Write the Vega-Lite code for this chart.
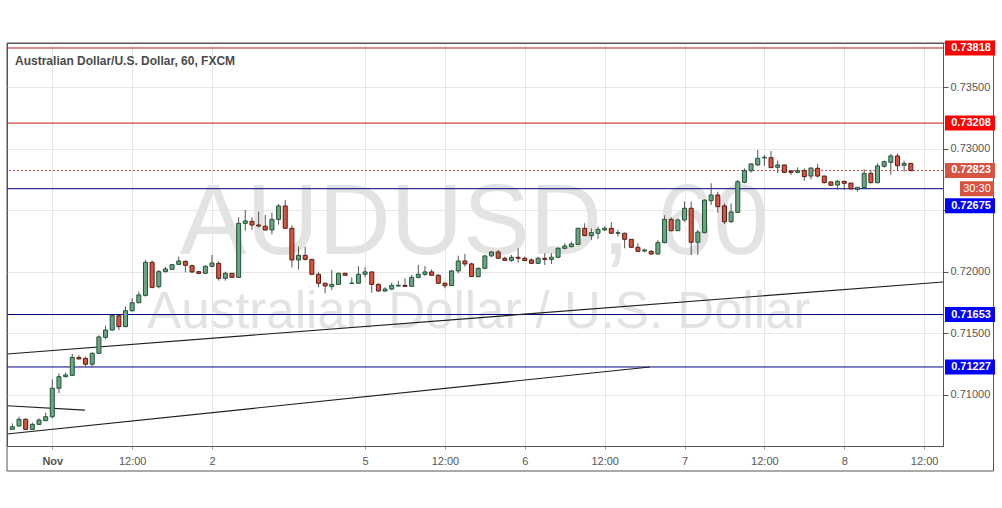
{
  "$schema": "https://vega.github.io/schema/vega-lite/v6.json",
  "width": 936,
  "height": 403,
  "autosize": {"type": "none"},
  "padding": {"left": 7, "top": 43, "right": 59, "bottom": 62},
  "background": "#ffffff",
  "config": {"view": {"stroke": "#555555", "strokeWidth": 1}, "font": "Liberation Sans"},
  "datasets": {
    "one": [{"n": 1}],
    "candles": [
      {"i":-6,"o":0.70720,"h":0.70769,"l":0.70715,"c":0.70742},
      {"i":-5,"o":0.70748,"h":0.70823,"l":0.70742,"c":0.70802},
      {"i":-4,"o":0.70802,"h":0.70810,"l":0.70715,"c":0.70720},
      {"i":-3,"o":0.70720,"h":0.70775,"l":0.70715,"c":0.70761},
      {"i":-2,"o":0.70761,"h":0.70810,"l":0.70756,"c":0.70796},
      {"i":-1,"o":0.70791,"h":0.70856,"l":0.70788,"c":0.70823},
      {"i":0,"o":0.70823,"h":0.71127,"l":0.70810,"c":0.71054},
      {"i":1,"o":0.71054,"h":0.71175,"l":0.71013,"c":0.71148},
      {"i":2,"o":0.71148,"h":0.71181,"l":0.71143,"c":0.71162},
      {"i":3,"o":0.71159,"h":0.71333,"l":0.71154,"c":0.71305},
      {"i":4,"o":0.71303,"h":0.71324,"l":0.71289,"c":0.71292},
      {"i":5,"o":0.71297,"h":0.71311,"l":0.71230,"c":0.71249},
      {"i":6,"o":0.71249,"h":0.71346,"l":0.71224,"c":0.71338},
      {"i":7,"o":0.71338,"h":0.71484,"l":0.71333,"c":0.71471},
      {"i":8,"o":0.71468,"h":0.71563,"l":0.71452,"c":0.71527},
      {"i":9,"o":0.71527,"h":0.71645,"l":0.71522,"c":0.71644},
      {"i":10,"o":0.71644,"h":0.71649,"l":0.71527,"c":0.71555},
      {"i":11,"o":0.71555,"h":0.71717,"l":0.71549,"c":0.71684},
      {"i":12,"o":0.71684,"h":0.71785,"l":0.71676,"c":0.71749},
      {"i":13,"o":0.71749,"h":0.71839,"l":0.71744,"c":0.71812},
      {"i":14,"o":0.71809,"h":0.72096,"l":0.71798,"c":0.72077},
      {"i":15,"o":0.72077,"h":0.72091,"l":0.71866,"c":0.71874},
      {"i":16,"o":0.71879,"h":0.72015,"l":0.71866,"c":0.72001},
      {"i":17,"o":0.72001,"h":0.72042,"l":0.71996,"c":0.72023},
      {"i":18,"o":0.72020,"h":0.72064,"l":0.72020,"c":0.72058},
      {"i":19,"o":0.72061,"h":0.72123,"l":0.72055,"c":0.72088},
      {"i":20,"o":0.72085,"h":0.72091,"l":0.71996,"c":0.72053},
      {"i":21,"o":0.72050,"h":0.72058,"l":0.71990,"c":0.71999},
      {"i":22,"o":0.72001,"h":0.72007,"l":0.71980,"c":0.71988},
      {"i":23,"o":0.71988,"h":0.72053,"l":0.71982,"c":0.72045},
      {"i":24,"o":0.72045,"h":0.72137,"l":0.72036,"c":0.72072},
      {"i":25,"o":0.72069,"h":0.72085,"l":0.71928,"c":0.71947},
      {"i":26,"o":0.71947,"h":0.72001,"l":0.71928,"c":0.71988},
      {"i":27,"o":0.71988,"h":0.71990,"l":0.71953,"c":0.71955},
      {"i":28,"o":0.71955,"h":0.72443,"l":0.71950,"c":0.72394},
      {"i":29,"o":0.72394,"h":0.72502,"l":0.72334,"c":0.72413},
      {"i":30,"o":0.72410,"h":0.72443,"l":0.72340,"c":0.72380},
      {"i":31,"o":0.72380,"h":0.72489,"l":0.72361,"c":0.72372},
      {"i":32,"o":0.72370,"h":0.72462,"l":0.72334,"c":0.72340},
      {"i":33,"o":0.72340,"h":0.72481,"l":0.72305,"c":0.72426},
      {"i":34,"o":0.72426,"h":0.72551,"l":0.72383,"c":0.72535},
      {"i":35,"o":0.72535,"h":0.72583,"l":0.72351,"c":0.72353},
      {"i":36,"o":0.72353,"h":0.72378,"l":0.72036,"c":0.72096},
      {"i":37,"o":0.72096,"h":0.72204,"l":0.72020,"c":0.72134},
      {"i":38,"o":0.72134,"h":0.72204,"l":0.72091,"c":0.72101},
      {"i":39,"o":0.72101,"h":0.72103,"l":0.71972,"c":0.71980},
      {"i":40,"o":0.71980,"h":0.72001,"l":0.71874,"c":0.71907},
      {"i":41,"o":0.71907,"h":0.71910,"l":0.71825,"c":0.71885},
      {"i":42,"o":0.71880,"h":0.72015,"l":0.71852,"c":0.71898},
      {"i":43,"o":0.71898,"h":0.71993,"l":0.71893,"c":0.71988},
      {"i":44,"o":0.71988,"h":0.71993,"l":0.71966,"c":0.71972},
      {"i":45,"o":0.71907,"h":0.71955,"l":0.71906,"c":0.71908},
      {"i":46,"o":0.71907,"h":0.72047,"l":0.71901,"c":0.71980},
      {"i":47,"o":0.71980,"h":0.72036,"l":0.71955,"c":0.71999},
      {"i":48,"o":0.71999,"h":0.72000,"l":0.71831,"c":0.71898},
      {"i":49,"o":0.71898,"h":0.71907,"l":0.71839,"c":0.71844},
      {"i":50,"o":0.71844,"h":0.71874,"l":0.71839,"c":0.71860},
      {"i":51,"o":0.71860,"h":0.71912,"l":0.71852,"c":0.71890},
      {"i":52,"o":0.71885,"h":0.71928,"l":0.71879,"c":0.71890},
      {"i":53,"o":0.71890,"h":0.71947,"l":0.71879,"c":0.71882},
      {"i":54,"o":0.71882,"h":0.71974,"l":0.71879,"c":0.71955},
      {"i":55,"o":0.71955,"h":0.72055,"l":0.71947,"c":0.71980},
      {"i":56,"o":0.71980,"h":0.72047,"l":0.71966,"c":0.71999},
      {"i":57,"o":0.71999,"h":0.72020,"l":0.71966,"c":0.71972},
      {"i":58,"o":0.71972,"h":0.71980,"l":0.71901,"c":0.71907},
      {"i":59,"o":0.71907,"h":0.71915,"l":0.71866,"c":0.71888},
      {"i":60,"o":0.71888,"h":0.72015,"l":0.71888,"c":0.72007},
      {"i":61,"o":0.72007,"h":0.72131,"l":0.71988,"c":0.72088},
      {"i":62,"o":0.72088,"h":0.72145,"l":0.72042,"c":0.72064},
      {"i":63,"o":0.72064,"h":0.72074,"l":0.71960,"c":0.71961},
      {"i":64,"o":0.71961,"h":0.72036,"l":0.71955,"c":0.72028},
      {"i":65,"o":0.72028,"h":0.72137,"l":0.72023,"c":0.72129},
      {"i":66,"o":0.72129,"h":0.72169,"l":0.72123,"c":0.72161},
      {"i":67,"o":0.72161,"h":0.72177,"l":0.72104,"c":0.72110},
      {"i":68,"o":0.72110,"h":0.72123,"l":0.72091,"c":0.72093},
      {"i":69,"o":0.72093,"h":0.72137,"l":0.72083,"c":0.72118},
      {"i":70,"o":0.72118,"h":0.72191,"l":0.72074,"c":0.72110},
      {"i":71,"o":0.72110,"h":0.72123,"l":0.72088,"c":0.72091},
      {"i":72,"o":0.72096,"h":0.72110,"l":0.72064,"c":0.72069},
      {"i":73,"o":0.72069,"h":0.72123,"l":0.72064,"c":0.72110},
      {"i":74,"o":0.72110,"h":0.72150,"l":0.72055,"c":0.72101},
      {"i":75,"o":0.72101,"h":0.72150,"l":0.72064,"c":0.72118},
      {"i":76,"o":0.72118,"h":0.72199,"l":0.72110,"c":0.72191},
      {"i":77,"o":0.72191,"h":0.72231,"l":0.72183,"c":0.72210},
      {"i":78,"o":0.72204,"h":0.72245,"l":0.72199,"c":0.72226},
      {"i":79,"o":0.72223,"h":0.72359,"l":0.72217,"c":0.72353},
      {"i":80,"o":0.72353,"h":0.72394,"l":0.72291,"c":0.72294},
      {"i":81,"o":0.72294,"h":0.72353,"l":0.72259,"c":0.72318},
      {"i":82,"o":0.72313,"h":0.72367,"l":0.72267,"c":0.72345},
      {"i":83,"o":0.72340,"h":0.72367,"l":0.72332,"c":0.72353},
      {"i":84,"o":0.72353,"h":0.72402,"l":0.72307,"c":0.72313},
      {"i":85,"o":0.72313,"h":0.72340,"l":0.72286,"c":0.72318},
      {"i":86,"o":0.72313,"h":0.72318,"l":0.72191,"c":0.72264},
      {"i":87,"o":0.72264,"h":0.72264,"l":0.72199,"c":0.72199},
      {"i":88,"o":0.72199,"h":0.72231,"l":0.72164,"c":0.72166},
      {"i":89,"o":0.72169,"h":0.72188,"l":0.72156,"c":0.72177},
      {"i":90,"o":0.72166,"h":0.72177,"l":0.72137,"c":0.72145},
      {"i":91,"o":0.72145,"h":0.72258,"l":0.72137,"c":0.72237},
      {"i":92,"o":0.72237,"h":0.72459,"l":0.72231,"c":0.72426},
      {"i":93,"o":0.72426,"h":0.72443,"l":0.72329,"c":0.72334},
      {"i":94,"o":0.72334,"h":0.72434,"l":0.72334,"c":0.72421},
      {"i":95,"o":0.72421,"h":0.72570,"l":0.72407,"c":0.72516},
      {"i":96,"o":0.72516,"h":0.72570,"l":0.72137,"c":0.72240},
      {"i":97,"o":0.72240,"h":0.72340,"l":0.72137,"c":0.72323},
      {"i":98,"o":0.72318,"h":0.72589,"l":0.72313,"c":0.72583},
      {"i":99,"o":0.72578,"h":0.72719,"l":0.72543,"c":0.72624},
      {"i":100,"o":0.72624,"h":0.72651,"l":0.72481,"c":0.72529},
      {"i":101,"o":0.72535,"h":0.72556,"l":0.72388,"c":0.72407},
      {"i":102,"o":0.72407,"h":0.72556,"l":0.72399,"c":0.72486},
      {"i":103,"o":0.72483,"h":0.72746,"l":0.72481,"c":0.72732},
      {"i":104,"o":0.72727,"h":0.72841,"l":0.72719,"c":0.72822},
      {"i":105,"o":0.72822,"h":0.72881,"l":0.72805,"c":0.72876},
      {"i":106,"o":0.72868,"h":0.72990,"l":0.72860,"c":0.72922},
      {"i":107,"o":0.72925,"h":0.72949,"l":0.72860,"c":0.72930},
      {"i":108,"o":0.72927,"h":0.72981,"l":0.72846,"c":0.72846},
      {"i":109,"o":0.72849,"h":0.72903,"l":0.72800,"c":0.72868},
      {"i":110,"o":0.72868,"h":0.72870,"l":0.72800,"c":0.72808},
      {"i":111,"o":0.72819,"h":0.72827,"l":0.72786,"c":0.72808},
      {"i":112,"o":0.72808,"h":0.72849,"l":0.72800,"c":0.72822},
      {"i":113,"o":0.72822,"h":0.72841,"l":0.72740,"c":0.72773},
      {"i":114,"o":0.72778,"h":0.72846,"l":0.72751,"c":0.72843},
      {"i":115,"o":0.72841,"h":0.72876,"l":0.72767,"c":0.72778},
      {"i":116,"o":0.72778,"h":0.72780,"l":0.72719,"c":0.72724},
      {"i":117,"o":0.72730,"h":0.72732,"l":0.72700,"c":0.72703},
      {"i":118,"o":0.72705,"h":0.72746,"l":0.72665,"c":0.72735},
      {"i":119,"o":0.72735,"h":0.72740,"l":0.72665,"c":0.72719},
      {"i":120,"o":0.72721,"h":0.72722,"l":0.72670,"c":0.72673},
      {"i":121,"o":0.72670,"h":0.72687,"l":0.72651,"c":0.72686},
      {"i":122,"o":0.72684,"h":0.72832,"l":0.72684,"c":0.72800},
      {"i":123,"o":0.72800,"h":0.72827,"l":0.72719,"c":0.72724},
      {"i":124,"o":0.72724,"h":0.72881,"l":0.72719,"c":0.72860},
      {"i":125,"o":0.72857,"h":0.72903,"l":0.72846,"c":0.72895},
      {"i":126,"o":0.72889,"h":0.72957,"l":0.72789,"c":0.72941},
      {"i":127,"o":0.72941,"h":0.72962,"l":0.72827,"c":0.72862},
      {"i":128,"o":0.72865,"h":0.72903,"l":0.72814,"c":0.72881},
      {"i":129,"o":0.72881,"h":0.72881,"l":0.72814,"c":0.72823}
    ],
    "levels": [
      {"v":0.73818,"k":"r","t":"0.73818"},
      {"v":0.73208,"k":"r","t":"0.73208"},
      {"v":0.72675,"k":"b","t":"0.72675"},
      {"v":0.71653,"k":"b","t":"0.71653"},
      {"v":0.71227,"k":"b","t":"0.71227"}
    ],
    "tags": [
      {"v":0.73818,"k":"r","t":"0.73818"},
      {"v":0.73208,"k":"r","t":"0.73208"},
      {"v":0.72823,"k":"last","t":"0.72823"},
      {"v":0.71653,"k":"b","t":"0.71653"},
      {"v":0.71227,"k":"b","t":"0.71227"}
    ],
    "trends": [
      {"g":1,"x":-6.807,"y":0.713324},
      {"g":1,"x":133.84,"y":0.719173},
      {"g":2,"x":-6.807,"y":0.706826},
      {"g":2,"x":89.8,"y":0.71227},
      {"g":3,"x":-6.807,"y":0.70912},
      {"g":3,"x":4.9,"y":0.70877}
    ]
  },
  "layer": [
    {
      "data": {"name": "one"},
      "mark": {"type": "text", "align": "center", "baseline": "alphabetic", "fontSize": 100, "color": "#e3e3e3", "font": "Liberation Sans"},
      "encoding": {
        "x": {"datum": 63.4, "type": "quantitative", "scale": {"domain": [-6.807, 133.84], "nice": false, "zero": false, "padding": 0}, "title": null},
        "y": {"datum": 0.72141, "type": "quantitative", "scale": {"domain": [0.705851, 0.738586], "nice": false, "zero": false, "padding": 0}, "title": null},
        "text": {"value": "AUDUSD, 60"}
      }
    },
    {
      "data": {"name": "one"},
      "mark": {"type": "text", "align": "center", "baseline": "alphabetic", "fontSize": 51, "color": "#e3e3e3", "font": "Liberation Sans"},
      "encoding": {
        "x": {"datum": 64.1, "type": "quantitative", "scale": {"domain": [-6.807, 133.84], "nice": false, "zero": false, "padding": 0}, "title": null},
        "y": {"datum": 0.7154, "type": "quantitative", "scale": {"domain": [0.705851, 0.738586], "nice": false, "zero": false, "padding": 0}, "title": null},
        "text": {"value": "Australian Dollar / U.S. Dollar"}
      }
    },
    {
      "data": {"name": "levels"},
      "mark": {"type": "rule", "strokeWidth": 1},
      "encoding": {
        "y": {"field": "v", "type": "quantitative", "scale": {"domain": [0.705851, 0.738586], "nice": false, "zero": false, "padding": 0}, "title": null},
        "color": {"field": "k", "type": "nominal", "scale": {"domain": ["r", "b"], "range": ["#c41515", "#000080"]}, "legend": null}
      }
    },
    {
      "data": {"name": "trends"},
      "mark": {"type": "line", "color": "#1e1e1e", "strokeWidth": 1.2},
      "encoding": {
        "x": {"field": "x", "type": "quantitative", "scale": {"domain": [-6.807, 133.84], "nice": false, "zero": false, "padding": 0}, "title": null},
        "y": {"field": "y", "type": "quantitative", "scale": {"domain": [0.705851, 0.738586], "nice": false, "zero": false, "padding": 0}, "title": null},
        "detail": {"field": "g", "type": "nominal"}
      }
    },
    {
      "data": {"name": "one"},
      "mark": {"type": "rule", "color": "#d75442", "strokeDash": [2, 2], "strokeWidth": 1},
      "encoding": {
        "y": {"datum": 0.72823, "type": "quantitative", "scale": {"domain": [0.705851, 0.738586], "nice": false, "zero": false, "padding": 0}, "title": null}
      }
    },
    {
      "data": {"name": "candles"},
      "mark": {"type": "rule", "color": "#555555", "strokeWidth": 1},
      "encoding": {
        "x": {
          "field": "i", "type": "quantitative", "title": null,
          "scale": {"domain": [-6.807, 133.84], "nice": false, "zero": false, "padding": 0},
          "axis": {
            "values": [0, 12, 24, 47, 59, 71, 83, 95, 107, 119, 131],
            "labelExpr": "datum.value == 0 ? 'Nov' : datum.value == 24 ? '2' : datum.value == 47 ? '5' : datum.value == 71 ? '6' : datum.value == 95 ? '7' : datum.value == 119 ? '8' : '12:00'",
            "grid": true, "gridColor": "#e6e6e6", "domainColor": "#555555", "tickColor": "#999999", "tickSize": 3,
            "labelColor": "#555555", "labelFontSize": 11, "labelFont": "Liberation Sans", "labelPadding": 6,
            "labelFontWeight": {"condition": {"test": "datum.value == 0", "value": "bold"}, "value": "normal"},
            "labelFlush": false, "labelOverlap": false
          }
        },
        "y": {
          "field": "l", "type": "quantitative", "title": null,
          "scale": {"domain": [0.705851, 0.738586], "nice": false, "zero": false, "padding": 0},
          "axis": {
            "orient": "right", "values": [0.71, 0.715, 0.72, 0.725, 0.73, 0.735],
            "labelExpr": "abs(datum.value - 0.725) < 0.000001 ? '' : format(datum.value, '.5f')",
            "grid": true, "gridColor": "#e6e6e6", "domainColor": "#555555", "tickColor": "#555555", "tickSize": 5,
            "labelColor": "#555555", "labelFontSize": 11, "labelFont": "Liberation Sans", "labelPadding": 2, "labelOverlap": false
          }
        },
        "y2": {"field": "h"}
      }
    },
    {
      "data": {"name": "candles"},
      "mark": {"type": "bar", "width": 4, "strokeWidth": 1},
      "encoding": {
        "x": {"field": "i", "type": "quantitative", "scale": {"domain": [-6.807, 133.84], "nice": false, "zero": false, "padding": 0}, "title": null},
        "y": {"field": "o", "type": "quantitative", "scale": {"domain": [0.705851, 0.738586], "nice": false, "zero": false, "padding": 0}, "title": null},
        "y2": {"field": "c"},
        "fill": {"condition": {"test": "datum.c >= datum.o", "value": "#6ba583"}, "value": "#d75442"},
        "stroke": {"condition": {"test": "datum.c >= datum.o", "value": "#225437"}, "value": "#5b1a13"}
      }
    },
    {
      "data": {"name": "one"},
      "mark": {"type": "rect", "fill": "transparent", "stroke": "#555555", "strokeWidth": 1},
      "encoding": {
        "x": {"datum": -6.807, "type": "quantitative", "scale": {"domain": [-6.807, 133.84], "nice": false, "zero": false, "padding": 0}, "title": null},
        "x2": {"datum": 141.43},
        "y": {"datum": 0.738586, "type": "quantitative", "scale": {"domain": [0.705851, 0.738586], "nice": false, "zero": false, "padding": 0}, "title": null},
        "y2": {"datum": 0.70382}
      }
    },
    {
      "data": {"name": "tags"},
      "mark": {"type": "point", "shape": "M-1,-0.3L1,-0.3L1,0.3L-1,0.3Z", "size": 2500, "filled": true, "opacity": 1, "strokeWidth": 0},
      "encoding": {
        "x": {"datum": 137.9, "type": "quantitative", "scale": {"domain": [-6.807, 133.84], "nice": false, "zero": false, "padding": 0}, "title": null},
        "y": {"field": "v", "type": "quantitative", "scale": {"domain": [0.705851, 0.738586], "nice": false, "zero": false, "padding": 0}, "title": null},
        "fill": {"field": "k", "type": "nominal", "scale": {"domain": ["r", "b", "last"], "range": ["#ff0000", "#0000ff", "#d75442"]}, "legend": null}
      }
    },
    {
      "data": {"name": "one"},
      "mark": {"type": "point", "shape": "M-1,-0.3L1,-0.3L1,0.3L-1,0.3Z", "size": 2500, "filled": true, "opacity": 1, "strokeWidth": 0, "color": "#0000ff", "yOffset": 17},
      "encoding": {
        "x": {"datum": 137.9, "type": "quantitative", "scale": {"domain": [-6.807, 133.84], "nice": false, "zero": false, "padding": 0}, "title": null},
        "y": {"datum": 0.72675, "type": "quantitative", "scale": {"domain": [0.705851, 0.738586], "nice": false, "zero": false, "padding": 0}, "title": null}
      }
    },
    {
      "data": {"name": "one"},
      "mark": {"type": "point", "shape": "M-1,-0.44L1,-0.44L1,0.44L-1,0.44Z", "size": 1156, "filled": true, "opacity": 1, "strokeWidth": 0, "color": "#d75442"},
      "encoding": {
        "x": {"datum": 138.95, "type": "quantitative", "scale": {"domain": [-6.807, 133.84], "nice": false, "zero": false, "padding": 0}, "title": null},
        "y": {"datum": 0.72675, "type": "quantitative", "scale": {"domain": [0.705851, 0.738586], "nice": false, "zero": false, "padding": 0}, "title": null}
      }
    },
    {
      "data": {"name": "tags"},
      "mark": {"type": "text", "align": "center", "baseline": "middle", "fontSize": 11, "fontWeight": "bold", "color": "#ffffff", "font": "Liberation Sans"},
      "encoding": {
        "x": {"datum": 138.05, "type": "quantitative", "scale": {"domain": [-6.807, 133.84], "nice": false, "zero": false, "padding": 0}, "title": null},
        "y": {"field": "v", "type": "quantitative", "scale": {"domain": [0.705851, 0.738586], "nice": false, "zero": false, "padding": 0}, "title": null},
        "text": {"field": "t"}
      }
    },
    {
      "data": {"name": "one"},
      "mark": {"type": "text", "align": "center", "baseline": "middle", "fontSize": 11, "fontWeight": "bold", "color": "#ffffff", "font": "Liberation Sans", "yOffset": 17},
      "encoding": {
        "x": {"datum": 138.05, "type": "quantitative", "scale": {"domain": [-6.807, 133.84], "nice": false, "zero": false, "padding": 0}, "title": null},
        "y": {"datum": 0.72675, "type": "quantitative", "scale": {"domain": [0.705851, 0.738586], "nice": false, "zero": false, "padding": 0}, "title": null},
        "text": {"value": "0.72675"}
      }
    },
    {
      "data": {"name": "one"},
      "mark": {"type": "text", "align": "center", "baseline": "middle", "fontSize": 11, "color": "#ffffff", "font": "Liberation Sans"},
      "encoding": {
        "x": {"datum": 138.95, "type": "quantitative", "scale": {"domain": [-6.807, 133.84], "nice": false, "zero": false, "padding": 0}, "title": null},
        "y": {"datum": 0.72675, "type": "quantitative", "scale": {"domain": [0.705851, 0.738586], "nice": false, "zero": false, "padding": 0}, "title": null},
        "text": {"value": "30:30"}
      }
    },
    {
      "data": {"name": "one"},
      "mark": {"type": "text", "align": "left", "baseline": "middle", "fontSize": 12, "fontWeight": "bold", "color": "#4a4a4a", "font": "Liberation Sans"},
      "encoding": {
        "x": {"datum": -5.6, "type": "quantitative", "scale": {"domain": [-6.807, 133.84], "nice": false, "zero": false, "padding": 0}, "title": null},
        "y": {"datum": 0.73712, "type": "quantitative", "scale": {"domain": [0.705851, 0.738586], "nice": false, "zero": false, "padding": 0}, "title": null},
        "text": {"value": "Australian Dollar/U.S. Dollar, 60, FXCM"}
      }
    }
  ]
}
